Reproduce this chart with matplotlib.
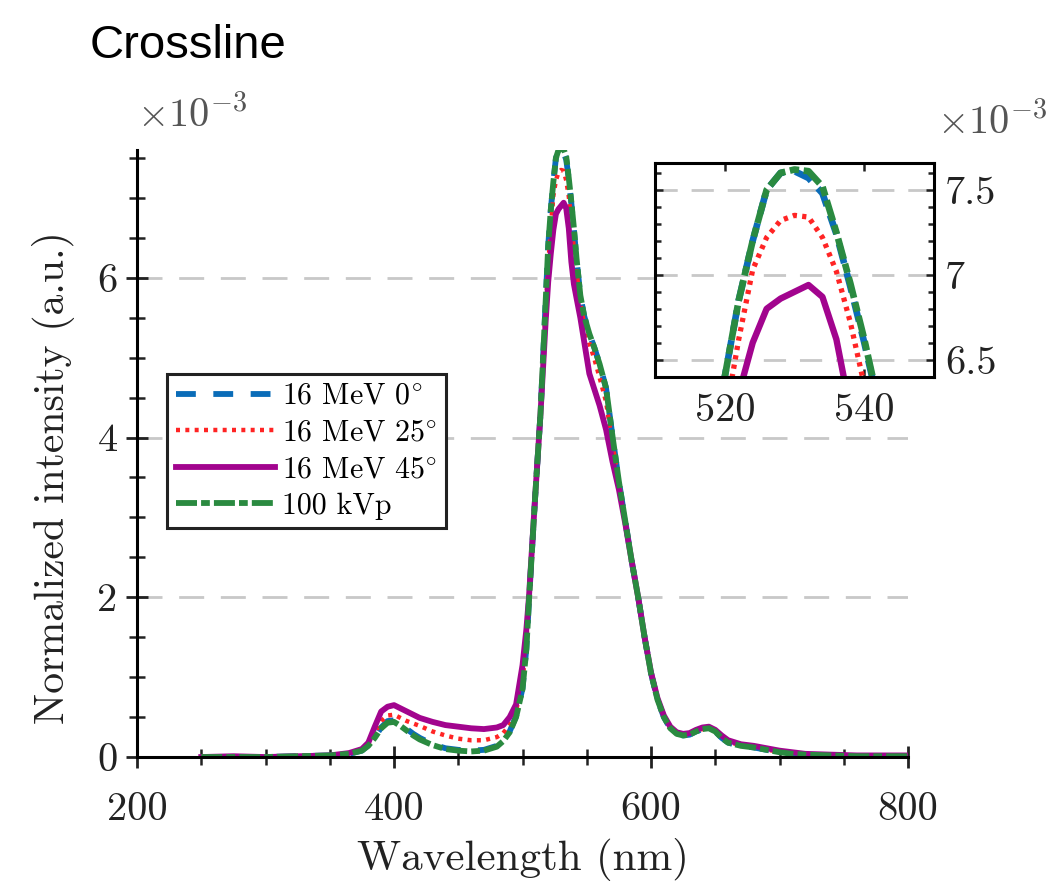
import matplotlib
matplotlib.use("Agg")
import matplotlib.pyplot as plt
from matplotlib.ticker import MultipleLocator, FixedLocator, FuncFormatter

plt.rcParams.update({
    "font.family": "serif",
    "font.serif": ["cmr10"],
    "mathtext.fontset": "cm",
    "axes.unicode_minus": False,
    "axes.formatter.use_mathtext": True,
})

# ---------------- data (intensity in units of 1e-3) ----------------
wavelength = [250, 275, 300, 325, 350, 365, 375, 380, 385, 390, 395, 400, 405, 410, 415, 420,
              430, 440, 450, 460, 470, 480, 485, 490, 495, 500, 503, 505, 510, 514, 518, 520,
              522, 524, 526, 528, 530, 532, 534, 536, 538, 540, 542, 545, 548, 552, 556, 560,
              565, 570, 575, 580, 585, 590, 595, 600, 605, 610, 615, 620, 625, 630, 635, 640,
              645, 650, 655, 660, 670, 680, 690, 700, 710, 720, 740, 760, 780, 800]

mev_0 = [0.00, 0.00, 0.00, 0.01, 0.02, 0.04, 0.08, 0.15, 0.25, 0.37, 0.45, 0.46, 0.41, 0.35, 0.29, 0.24,
         0.16, 0.11, 0.09, 0.08, 0.09, 0.14, 0.21, 0.32, 0.51, 0.86, 1.36, 1.95, 3.30, 4.30, 5.70, 6.40,
         6.85, 7.20, 7.50, 7.60, 7.61, 7.57, 7.48, 7.24, 6.93, 6.60, 6.24, 5.78, 5.52, 5.30, 5.12, 4.92,
         4.62, 4.02, 3.45, 2.95, 2.45, 2.00, 1.50, 1.05, 0.72, 0.50, 0.36, 0.29, 0.27, 0.28, 0.32, 0.35,
         0.36, 0.32, 0.24, 0.18, 0.14, 0.12, 0.09, 0.06, 0.04, 0.03, 0.02, 0.01, 0.01, 0.01]

mev_25 = [0.00, 0.00, 0.00, 0.01, 0.02, 0.05, 0.09, 0.16, 0.30, 0.45, 0.52, 0.53, 0.49, 0.45, 0.42, 0.39,
          0.32, 0.27, 0.23, 0.21, 0.21, 0.25, 0.30, 0.40, 0.58, 0.95, 1.45, 1.95, 3.30, 4.30, 5.60, 6.15,
          6.62, 7.03, 7.22, 7.32, 7.35, 7.34, 7.22, 7.02, 6.72, 6.35, 6.08, 5.68, 5.42, 5.18, 4.98, 4.75,
          4.45, 3.92, 3.43, 2.94, 2.45, 2.00, 1.50, 1.05, 0.72, 0.50, 0.36, 0.29, 0.27, 0.28, 0.32, 0.35,
          0.36, 0.32, 0.25, 0.19, 0.15, 0.12, 0.09, 0.07, 0.05, 0.03, 0.02, 0.01, 0.01, 0.01]

mev_45 = [0.00, 0.01, 0.00, 0.01, 0.02, 0.05, 0.10, 0.18, 0.38, 0.57, 0.63, 0.65, 0.61, 0.57, 0.53, 0.49,
          0.44, 0.40, 0.38, 0.36, 0.35, 0.37, 0.40, 0.50, 0.66, 1.15, 1.60, 2.00, 3.30, 4.30, 5.45, 5.95,
          6.30, 6.60, 6.80, 6.86, 6.90, 6.94, 6.87, 6.62, 6.20, 5.92, 5.75, 5.50, 5.20, 4.80, 4.60, 4.40,
          4.10, 3.70, 3.35, 2.92, 2.45, 2.00, 1.50, 1.06, 0.74, 0.52, 0.38, 0.31, 0.29, 0.30, 0.34, 0.37,
          0.38, 0.34, 0.27, 0.21, 0.16, 0.14, 0.11, 0.08, 0.06, 0.04, 0.03, 0.02, 0.02, 0.02]

kvp_100 = [0.00, 0.00, 0.00, 0.01, 0.02, 0.04, 0.08, 0.14, 0.24, 0.36, 0.43, 0.44, 0.39, 0.33, 0.27, 0.22,
           0.15, 0.10, 0.08, 0.07, 0.08, 0.13, 0.20, 0.31, 0.50, 0.85, 1.35, 1.95, 3.30, 4.30, 5.70, 6.40,
           6.85, 7.20, 7.50, 7.60, 7.62, 7.61, 7.52, 7.25, 6.95, 6.62, 6.25, 5.78, 5.52, 5.30, 5.12, 4.92,
           4.62, 4.02, 3.45, 2.95, 2.45, 2.00, 1.50, 1.05, 0.72, 0.50, 0.36, 0.29, 0.27, 0.28, 0.32, 0.35,
           0.36, 0.32, 0.24, 0.18, 0.14, 0.12, 0.09, 0.06, 0.04, 0.03, 0.02, 0.01, 0.01, 0.01]

labels = ["16 MeV 0$^{\\circ}$", "16 MeV 25$^{\\circ}$", "16 MeV 45$^{\\circ}$", "100 kVp"]
colors = ["#0a6cb8", "#ff2424", "#a2048e", "#2a8a40"]

main_xticks = [200, 400, 600, 800]
main_yticks = [0, 2, 4, 6]
inset_xticks = [520, 540]
inset_yticks = [6.5, 7, 7.5]

series = [mev_0, mev_25, mev_45, kvp_100]
styles = [
    dict(lw=4.2, dashes=(3.4, 3.0)),
    dict(lw=3.2, dashes=(0.9, 1.2)),
    dict(lw=4.2, linestyle="-"),
    dict(lw=4.2, dashes=(3.6, 0.7, 1.5, 0.7)),
]
inset_styles = [
    dict(lw=4.8, dashes=(3.0, 1.5)),
    dict(lw=3.8, dashes=(0.8, 1.0)),
    dict(lw=4.6, linestyle="-"),
    dict(lw=4.8, dashes=(3.2, 0.7, 1.4, 0.7)),
]

TICK_FS = 29
fig = plt.figure(figsize=(10.63, 8.94), dpi=100)
ax = fig.add_axes([0.1289, 0.1532, 0.7253, 0.679])

for ys, lab, col, st in zip(series, labels, colors, styles):
    ax.plot(wavelength, ys, color=col, label=lab, **st)

ax.set_xlim(200, 800)
ax.set_ylim(0, 7.6)
ax.spines["top"].set_visible(False)
ax.spines["right"].set_visible(False)
for s in ("left", "bottom"):
    ax.spines[s].set_linewidth(2.2)
ax.xaxis.set_major_locator(FixedLocator(main_xticks))
ax.xaxis.set_minor_locator(MultipleLocator(50))
ax.yaxis.set_major_locator(FixedLocator(main_yticks))
ax.yaxis.set_minor_locator(MultipleLocator(0.5))
fmt = FuncFormatter(lambda v, p: "%g" % v)
ax.xaxis.set_major_formatter(fmt)
ax.yaxis.set_major_formatter(fmt)
ax.tick_params(which="major", direction="inout", length=16, width=2.0, labelsize=TICK_FS,
               colors="#222222")
ax.tick_params(which="minor", direction="inout", length=11, width=1.8, colors="#222222")
ax.tick_params(axis="x", which="major", pad=17)
ax.tick_params(axis="y", which="major", pad=6)
ax.yaxis.grid(True, which="major", color="#c8c8c8", lw=2.0, linestyle=(0, (9, 6)))
ax.set_axisbelow(True)

ax.set_xlabel("Wavelength (nm)", fontsize=31, color="#222222")
ax.set_ylabel("Normalized intensity (a.u.)", fontsize=30, color="#222222")
ax.xaxis.set_label_coords(0.5, -0.133)
ax.yaxis.set_label_coords(-0.08, 0.46)
ax.text(0.0, 1.025, r"$\times 10^{-3}$", transform=ax.transAxes, ha="left", va="bottom",
        fontsize=TICK_FS, color="#555555")

leg = ax.legend(loc="upper left", bbox_to_anchor=(0.039, 0.631), borderaxespad=0,
                fontsize=21.5, frameon=True, fancybox=False, framealpha=1, edgecolor="#222222",
                handlelength=3.3, handletextpad=0.25, labelspacing=0.3, borderpad=0.3)
leg.get_frame().set_linewidth(2.2)

# ---------------- inset ----------------
ax2 = fig.add_axes([0.6162, 0.5786, 0.2625, 0.2394])
for ys, col, st in zip(series, colors, inset_styles):
    ax2.plot(wavelength, ys, color=col, **st)
ax2.set_xlim(510, 550)
ax2.set_ylim(6.4, 7.66)
for s in ax2.spines.values():
    s.set_linewidth(2.2)
ax2.xaxis.set_major_locator(FixedLocator(inset_xticks))
ax2.yaxis.set_major_locator(FixedLocator(inset_yticks))
ax2.yaxis.set_minor_locator(MultipleLocator(0.1))
ax2.xaxis.set_major_formatter(fmt)
ax2.yaxis.set_major_formatter(fmt)
ax2.tick_params(which="both", direction="in", top=True, bottom=True, left=True, right=True,
                labelleft=False, labelright=True, width=1.8, colors="#222222")
ax2.tick_params(which="major", length=6, labelsize=TICK_FS)
ax2.tick_params(which="minor", length=4)
ax2.tick_params(axis="x", which="major", pad=12)
ax2.tick_params(axis="y", which="major", pad=8)
ax2.yaxis.grid(True, which="major", color="#c8c8c8", lw=2.0, linestyle=(0, (8, 5)))
ax2.set_axisbelow(True)
ax2.text(1.01, 1.1, r"$\times 10^{-3}$", transform=ax2.transAxes, ha="left", va="bottom",
         fontsize=TICK_FS, color="#555555")

fig.text(0.0847, 0.935, "Crossline", fontsize=34, family="Liberation Sans", ha="left",
         va="baseline")

fig.savefig("out.png", dpi=100)
